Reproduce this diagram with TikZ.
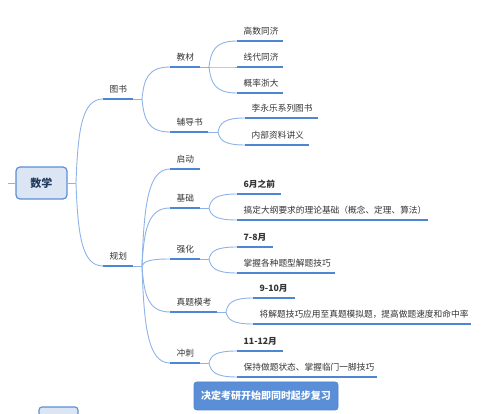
\documentclass[tikz,border=0pt]{standalone}
\usepackage{fontspec}
\newfontfamily\cjk{Noto Sans CJK SC}
\usetikzlibrary{calc}
\definecolor{uline}{HTML}{4F86D1}
\definecolor{cline}{HTML}{8DB3E8}
\definecolor{txt}{HTML}{333333}
\definecolor{rootfill}{HTML}{DBE5F3}
\definecolor{rootdraw}{HTML}{5B8FD6}
\definecolor{boxfill}{HTML}{5A8FD8}
\definecolor{boxdraw}{HTML}{4F82CC}
\definecolor{roottxt}{HTML}{22395C}
\tikzset{
 uln/.style={draw=uline, line width=2.4pt},
 conn/.style={draw=cline, line width=0.9pt},
 lbl/.style={anchor=south west, inner sep=0pt, font=\cjk\fontsize{8.7}{10}\selectfont, text=txt},
 lblb/.style={lbl, font=\cjk\bfseries\fontsize{8.7}{10}\selectfont},
 rootbox/.style={draw=rootdraw, fill=rootfill, line width=1.2pt, rounded corners=4pt,
   minimum width=51pt, minimum height=32pt, inner sep=0pt,
   font=\cjk\bfseries\fontsize{11}{13}\selectfont, text=roottxt},
 bluebox/.style={draw=boxdraw, fill=boxfill, line width=0.8pt, rounded corners=3pt,
   minimum width=144pt, minimum height=28pt, inner sep=0pt,
   font=\cjk\bfseries\fontsize{10}{12}\selectfont, text=white},
}
\newcommand\topic[6][lbl]{%
  \coordinate (#2) at (#3,#5);
  \coordinate (#2-e) at (#4,#5);
  \draw[uln] (#2) -- (#2-e);
  \node[#1] (#2-l) at ($(#2)+(6.5,-5.5)$) {#6};
}
\newcommand\conn[2]{\draw[conn] let \p1=(#1), \p2=(#2) in (\p1) .. controls ({\x1+0.07*(\x2-\x1)},{\y1+0.63*(\y2-\y1)}) and ({\x1+0.22*(\x2-\x1)},\y2) .. (\p2);}
\newcommand\stub[2]{\coordinate (#1-b) at (#2,0); \path (#1-b |- #1) coordinate (#1-b); \draw[conn] (#1-e) -- (#1-b);}
\begin{document}
\begin{tikzpicture}[x=1pt,y=-1pt]
\useasboundingbox (0,0) rectangle (491,414);
% root
\node[rootbox] (root) at (41.5,183) {数学};
\coordinate (rootin) at (8,183);
\draw[conn] (rootin) -- (root.west);
\coordinate (b0) at (76,183);
\draw[conn] (root.east) -- (b0);
% level 1
\topic{tushu}{103}{133}{99}{图书}
\topic{guihua}{103}{133}{266}{规划}
\conn{b0}{tushu}
\conn{b0}{guihua}
\stub{tushu}{142}
\stub{guihua}{142}
% 图书 children
\topic{jiaocai}{170}{200}{67}{教材}
\topic{fudao}{170}{208}{132}{辅导书}
\conn{tushu-b}{jiaocai}
\conn{tushu-b}{fudao}
\stub{jiaocai}{209}
\stub{fudao}{218}
\topic{gaoshu}{237}{283}{41}{高数同济}
\topic{xiandai}{237}{283}{67}{线代同济}
\topic{gailv}{237}{283}{93}{概率浙大}
\conn{jiaocai-b}{gaoshu}
\conn{jiaocai-b}{xiandai}
\conn{jiaocai-b}{gailv}
\topic{liyongle}{245}{318}{118}{李永乐系列图书}
\topic{neibu}{245}{309}{145}{内部资料讲义}
\conn{fudao-b}{liyongle}
\conn{fudao-b}{neibu}
% 规划 children
\topic{qidong}{170}{200}{169}{启动}
\topic{jichu}{170}{200}{208}{基础}
\topic{qianghua}{170}{200}{259}{强化}
\topic{zhenti}{170}{217}{312}{真题模考}
\topic{chongci}{170}{200}{363}{冲刺}
\conn{guihua-b}{qidong}
\conn{guihua-b}{jichu}
\conn{guihua-b}{qianghua}
\conn{guihua-b}{zhenti}
\conn{guihua-b}{chongci}
\stub{jichu}{209}
\stub{qianghua}{209}
\stub{zhenti}{226}
\stub{chongci}{209}
\topic[lblb]{jc1}{237}{281}{194}{6月之前}
\topic{jc2}{237}{428}{220}{搞定大纲要求的理论基础（概念、定理、算法）}
\conn{jichu-b}{jc1}
\conn{jichu-b}{jc2}
\topic[lblb]{qh1}{237}{273}{247}{7-8月}
\topic{qh2}{237}{335}{273}{掌握各种题型解题技巧}
\conn{qianghua-b}{qh1}
\conn{qianghua-b}{qh2}
\topic[lblb]{zt1}{253}{295}{298}{9-10月}
\topic{zt2}{253}{471}{324}{将解题技巧应用至真题模拟题，提高做题速度和命中率}
\conn{zhenti-b}{zt1}
\conn{zhenti-b}{zt2}
\topic[lblb]{cc1}{237}{283}{351}{11-12月}
\topic{cc2}{237}{377}{377}{保持做题状态、掌握临门一脚技巧}
\conn{chongci-b}{cc1}
\conn{chongci-b}{cc2}
% bottom boxes
\node[bluebox] (start) at (266,396) {决定考研开始即同时起步复习};
\draw[draw=rootdraw, fill=rootfill, line width=1.1pt, rounded corners=3pt] (39,407) rectangle (78,432);
\end{tikzpicture}
\end{document}
